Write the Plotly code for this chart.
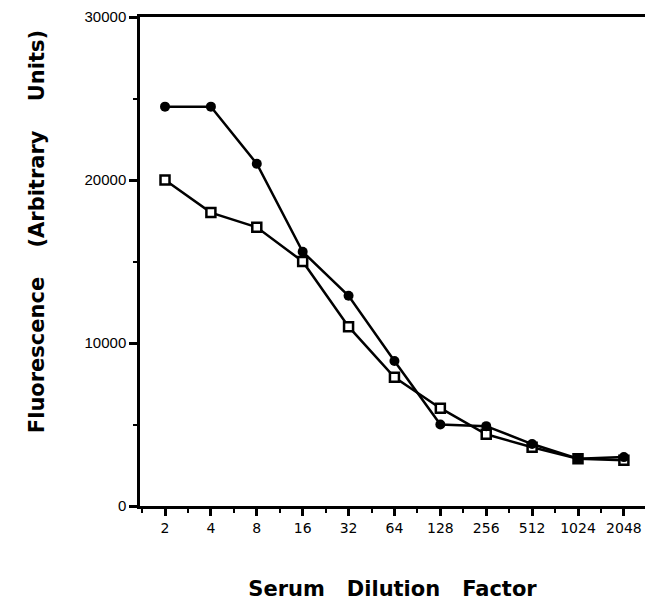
import plotly.graph_objects as go

dilutions = ["2", "4", "8", "16", "32", "64", "128", "256", "512", "1024", "2048"]
filled_circle = [24500, 24500, 21000, 15600, 12900, 8900, 5000, 4900, 3800, 2900, 3000]
open_square = [20000, 18000, 17100, 15000, 11000, 7900, 6000, 4400, 3600, 2900, 2800]
y_ticks = [0, 10000, 20000, 30000]
y_tick_text = ["0", "10000", "20000", "30000"]

xpos = list(range(len(dilutions)))

fig = go.Figure()
fig.add_trace(go.Scatter(
    x=xpos, y=open_square, mode="lines+markers",
    line=dict(color="black", width=2.5),
    marker=dict(symbol="square", size=9, color="white", line=dict(color="black", width=2.5)),
    showlegend=False))
fig.add_trace(go.Scatter(
    x=xpos, y=filled_circle, mode="lines+markers",
    line=dict(color="black", width=2.5),
    marker=dict(symbol="circle", size=10, color="black"),
    showlegend=False))

fig.update_layout(
    width=645, height=607,
    margin=dict(l=140, r=0, t=17, b=101),
    paper_bgcolor="white", plot_bgcolor="white",
    xaxis=dict(
        range=[-0.545, 10.46], tickvals=xpos, ticktext=dilutions,
        showgrid=False, zeroline=False,
        showline=True, linecolor="black", linewidth=2.5, mirror=True,
        ticks="outside", ticklen=7, tickwidth=2.5, tickcolor="black",
        tickfont=dict(family="DejaVu Sans", size=14, color="black"),
        minor=dict(dtick=1, tick0=0.5, ticks="outside", ticklen=4, tickwidth=2, tickcolor="black"),
        title=dict(text="Serum\u00a0\u00a0\u00a0Dilution\u00a0\u00a0\u00a0Factor",
                   font=dict(family="DejaVu Sans", size=21, color="black", weight="bold"),
                   standoff=47),
    ),
    yaxis=dict(
        range=[0, 30000], tickvals=y_ticks, ticktext=y_tick_text,
        showgrid=False, zeroline=False,
        showline=True, linecolor="black", linewidth=2.5,
        ticks="outside", ticklen=8, tickwidth=2.5, tickcolor="black",
        tickfont=dict(family="Liberation Sans, Arial", size=15, color="black"),
        minor=dict(dtick=5000, ticks="outside", ticklen=4, tickwidth=2, tickcolor="black"),
    ),
    annotations=[dict(
        text="Fluorescence\u00a0\u00a0\u00a0\u00a0(Arbitrary\u00a0\u00a0\u00a0\u00a0Units)",
        textangle=-90, xref="paper", yref="paper",
        x=-0.204, y=0.562, xanchor="center", yanchor="middle", showarrow=False,
        font=dict(family="DejaVu Sans", size=21, color="black", weight="bold"),
    )],
)

fig.write_html("out.html", config={"displayModeBar": False},
               post_script="document.body.style.margin='0';document.body.style.overflow='hidden';")
